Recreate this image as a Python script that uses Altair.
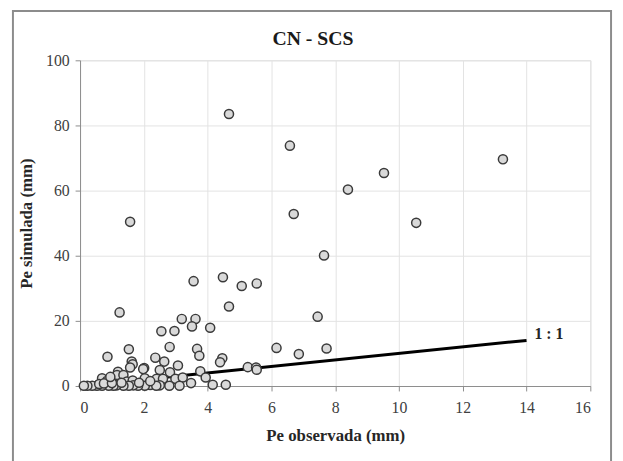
import altair as alt
import pandas as pd

obs = [4.67, 6.58, 13.26, 9.53, 8.40, 6.70, 1.57, 10.54, 7.65, 4.48, 3.56, 5.54, 5.07, 4.67,
       1.24, 7.45, 3.19, 3.62, 3.51, 4.08, 2.55, 2.96, 7.73, 6.16, 3.67, 1.53, 2.81, 6.86,
       3.74, 0.86, 2.36, 4.46, 4.39, 2.64, 1.62, 1.65, 3.07, 5.26, 5.52, 5.54, 1.57, 2.01,
       1.98, 2.50, 2.82, 1.19, 3.77, 1.16, 1.36, 3.94, 2.03, 0.69, 2.40, 2.60, 2.99, 3.22,
       0.85, 1.47, 1.65, 3.48, 4.16, 4.57, 3.12, 2.80, 2.50, 2.20, 2.39, 2.03, 1.82, 1.67,
       1.53, 1.36, 1.15, 1.05, 0.90, 0.69, 0.53, 0.38, 0.23, 0.12, 0.60, 0.75, 1.00, 1.30,
       0.95, 1.85, 2.20]
sim = [83.5, 73.8, 69.6, 65.4, 60.3, 52.8, 50.4, 50.1, 40.1, 33.4, 32.2, 31.5, 30.7, 24.4,
       22.6, 21.3, 20.6, 20.6, 18.3, 17.9, 16.8, 16.9, 11.5, 11.7, 11.4, 11.3, 12.0, 9.8,
       9.3, 9.0, 8.7, 8.5, 7.3, 7.5, 7.5, 6.7, 6.3, 5.8, 5.7, 5.0, 5.7, 5.5,
       5.2, 4.9, 4.2, 4.4, 4.5, 3.4, 3.4, 2.6, 2.4, 2.4, 2.2, 2.2, 2.2, 2.6,
       1.6, 1.4, 1.7, 0.9, 0.4, 0.4, 0.1, 0.1, 0.2, 0.3, 0.1, 0.1, 0.1, 0.2,
       0.1, 0.1, 0.2, 0.1, 0.1, 0.1, 0.1, 0.1, 0.1, 0.1, 0.6, 0.8, 0.9, 1.0,
       2.8, 1.0, 1.5]

line_x = [0, 14]
line_y = [0, 14]

x_ticks = [0, 2, 4, 6, 8, 10, 12, 14, 16]
y_ticks = [0, 20, 40, 60, 80, 100]

FONT = "Liberation Serif"

pts = pd.DataFrame({"obs": obs, "sim": sim})
line_df = pd.DataFrame({"obs": line_x, "sim": line_y})
lab_df = pd.DataFrame({"obs": [14.25], "sim": [16.0], "t": ["1 : 1"]})

xs = alt.Scale(domain=[0, 16], nice=False, zero=False)
ys = alt.Scale(domain=[0, 100], nice=False, zero=False)

xaxis = alt.Axis(values=x_ticks, title="Pe observada (mm)", grid=True, gridColor="#e3e3e3",
                 domainColor="#8c8c8c", tickColor="#8c8c8c", tickSize=5, labelFont=FONT,
                 labelFontSize=16, labelColor="#404040", titleFont=FONT, titleFontSize=17,
                 titleFontWeight="bold", titleColor="#262626", labelPadding=9, titlePadding=12)
yaxis = alt.Axis(values=y_ticks, title="Pe simulada (mm)", grid=True, gridColor="#e3e3e3",
                 domainColor="#8c8c8c", tickColor="#8c8c8c", tickSize=5, labelFont=FONT,
                 labelFontSize=16, labelColor="#404040", titleFont=FONT, titleFontSize=17,
                 titleFontWeight="bold", titleColor="#262626", labelPadding=6, titlePadding=10)

frame = alt.Chart(pd.DataFrame({"a": [0]})).mark_rect(
    fill="white", fillOpacity=0, stroke="#8c8c8c", strokeWidth=2
).encode(x=alt.value(-68), x2=alt.value(538), y=alt.value(-50), y2=alt.value(440))

title = alt.Chart(pd.DataFrame({"t": ["CN - SCS"]})).mark_text(
    align="center", baseline="middle", font=FONT, fontSize=20, fontWeight="bold", color="#1a1a1a"
).encode(x=alt.value(236), y=alt.value(-22), text="t:N")

line = alt.Chart(line_df).mark_line(color="black", strokeWidth=3).encode(
    x=alt.X("obs:Q", scale=xs, axis=xaxis),
    y=alt.Y("sim:Q", scale=ys, axis=yaxis),
)

points = alt.Chart(pts).mark_point(
    filled=True, fill="#d9d9d9", stroke="#3a3a3a", strokeWidth=1.5, size=85, opacity=1
).encode(x=alt.X("obs:Q", scale=xs), y=alt.Y("sim:Q", scale=ys))

label = alt.Chart(lab_df).mark_text(
    align="left", baseline="middle", font=FONT, fontSize=16, fontWeight="bold", color="#262626"
).encode(x=alt.X("obs:Q", scale=xs), y=alt.Y("sim:Q", scale=ys), text="t:N")

chart = alt.layer(frame, title, line, points, label).properties(
    width=517, height=330,
    autosize=alt.AutoSizeParams(type="none"),
    padding={"left": 73, "top": 50, "right": 25, "bottom": 75},
).configure_view(stroke=None).configure(background="white")

chart.save("out.html", embed_options={"renderer": "svg", "actions": False})
